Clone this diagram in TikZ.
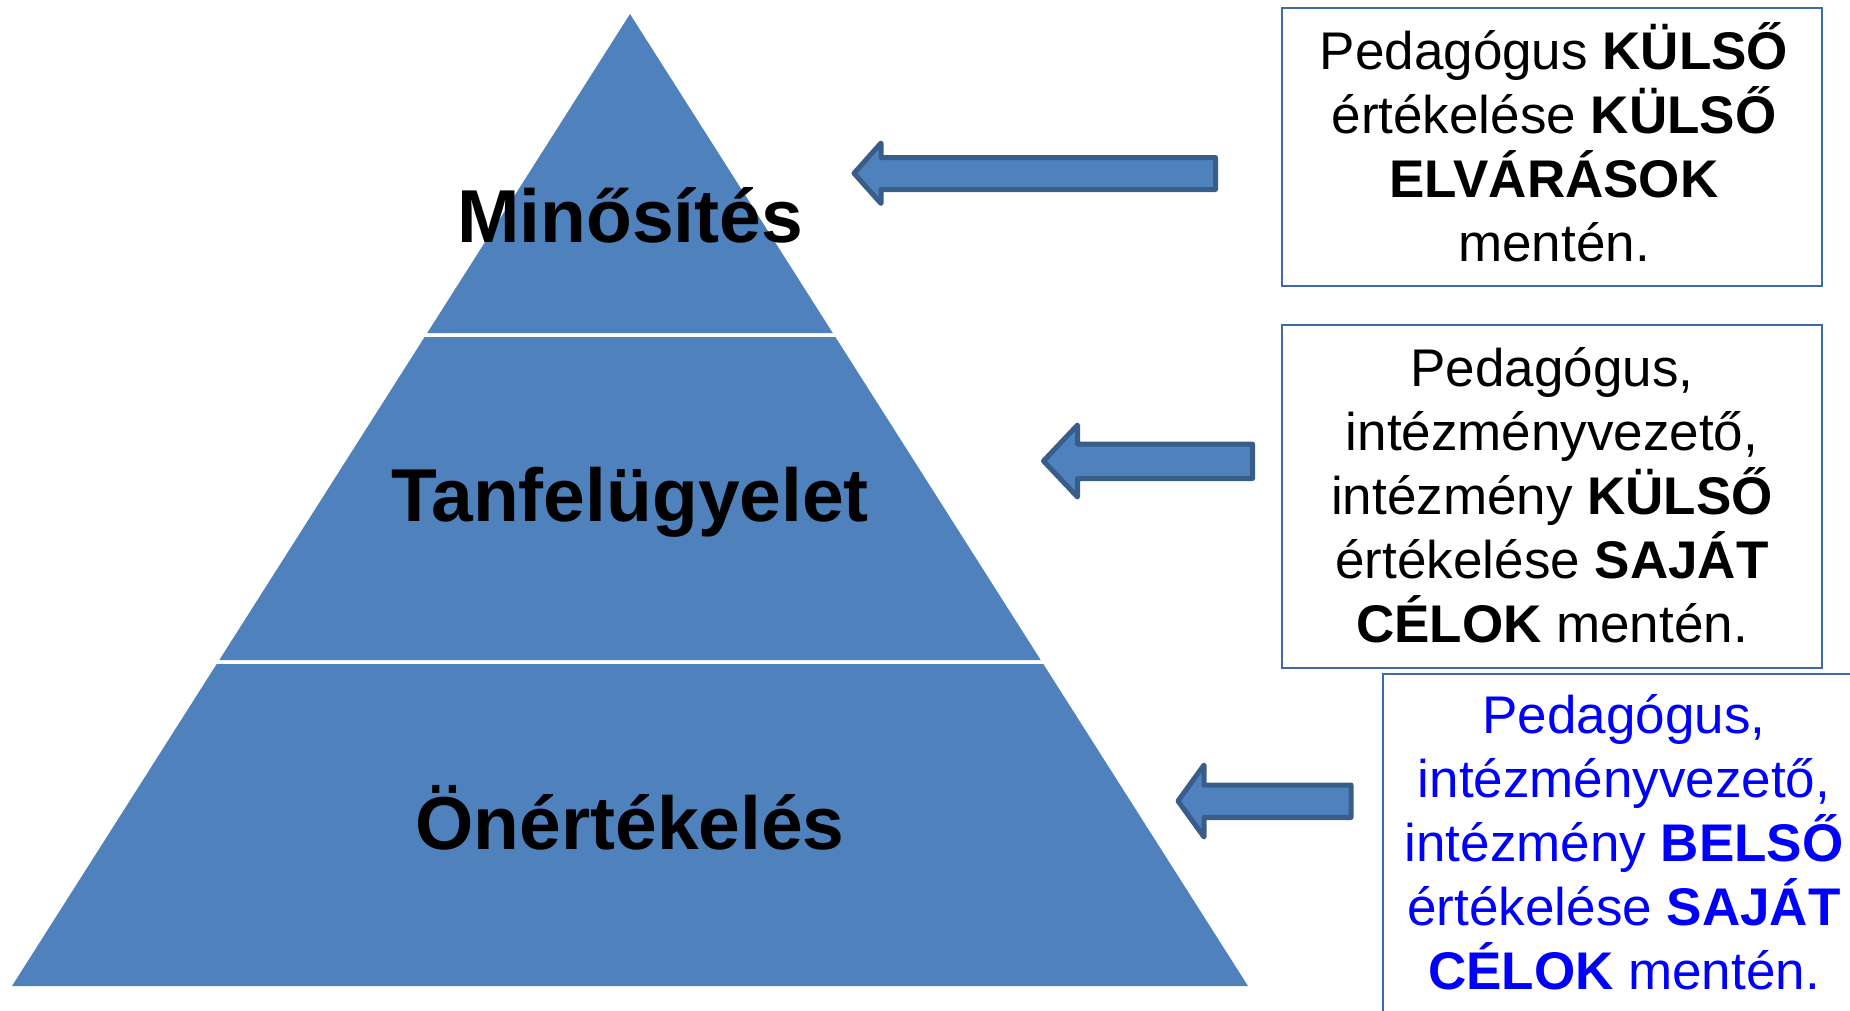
\documentclass[tikz,border=0pt]{standalone}
\usepackage{fontspec}
\setmainfont{Liberation Sans}
\definecolor{pyr}{HTML}{4F81BD}
\definecolor{arrline}{HTML}{385D8A}
\definecolor{boxline}{HTML}{3E6BA6}
\definecolor{txtblue}{HTML}{0000FF}
\begin{document}
\begin{tikzpicture}[x=1pt,y=-1pt,
  tier/.style={fill=pyr, draw=none},
  tierlabel/.style={font=\fontsize{75}{80}\selectfont\bfseries, anchor=base, inner sep=0pt},
  blockarrow/.style={fill=pyr, draw=arrline, line width=5pt, line join=round},
  infobox/.style={draw=boxline, line width=2pt},
  info/.style={font=\fontsize{53}{64}\selectfont, align=center, anchor=base, inner sep=0pt}]
\useasboundingbox (0,0) rectangle (1850,1010);
\clip (0,0) rectangle (1850,1010);
% pyramid tiers
\fill[tier] (630,14) -- (832.8,333) -- (427.2,333) -- cycle;
\fill[tier] (424.6,337) -- (835.4,337) -- (1040.7,660) -- (219.3,660) -- cycle;
\fill[tier] (216.7,664) -- (1043.3,664) -- (1248,986) -- (12,986) -- cycle;
% tier labels
\node[tierlabel] (minosites) at (630,242.7) {Minősítés};
\node[tierlabel] (tanfelugyelet) at (630,521.7) {Tanfelügyelet};
\node[tierlabel] (onertekeles) at (630,849.3) {Önértékelés};
% block arrows
\draw[blockarrow] (854,173.3) -- (881,143) -- (881,157.5) -- (1215.5,157.5) -- (1215.5,189.5) -- (881,189.5) -- (881,203.5) -- cycle;
\draw[blockarrow] (1043.5,461) -- (1077.5,425) -- (1077.5,444) -- (1252.5,444) -- (1252.5,478.5) -- (1077.5,478.5) -- (1077.5,497) -- cycle;
\draw[blockarrow] (1178,801) -- (1204,765) -- (1204,785) -- (1351,785) -- (1351,817.5) -- (1204,817.5) -- (1204,837) -- cycle;
% boxes
\draw[infobox] (1282,8) rectangle (1822,285.5);
\draw[infobox] (1282,325) rectangle (1822,668);
\draw[infobox] (1383,673.5) rectangle (1900,1100);
% box texts (anchored at the baseline of the last line)
\node[info] (box1) at (1554,261.5) {Pedagógus \textbf{KÜLSŐ}\\értékelése \textbf{KÜLSŐ}\\\textbf{ELVÁRÁSOK}\\mentén.};
\node[info] (box2) at (1552,642) {Pedagógus,\\intézményvezető,\\intézmény \textbf{KÜLSŐ}\\értékelése \textbf{SAJÁT}\\\textbf{CÉLOK} mentén.};
\node[info, text=txtblue] (box3) at (1624,989) {Pedagógus,\\intézményvezető,\\intézmény \textbf{BELSŐ}\\értékelése \textbf{SAJÁT}\\\textbf{CÉLOK} mentén.};
\end{tikzpicture}
\end{document}
